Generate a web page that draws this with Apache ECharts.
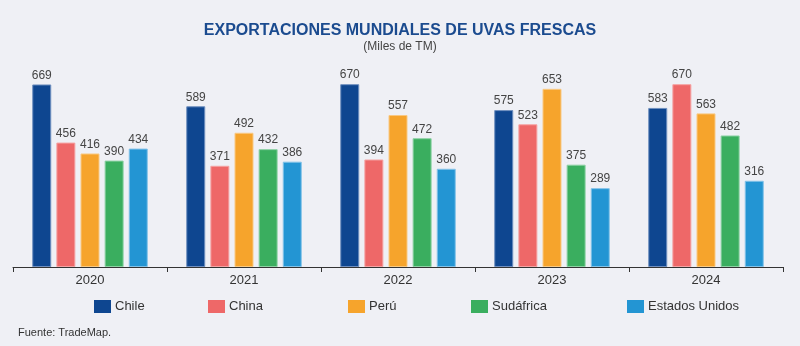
<!DOCTYPE html>
<html>
<head>
<meta charset="utf-8">
<script src="https://cdn.jsdelivr.net/npm/echarts@6/dist/echarts.min.js"></script>
<style>
  html, body { margin: 0; padding: 0; background: #eff0f5; }
  #chart { width: 800px; height: 346px; }
</style>
</head>
<body>
<div id="chart"></div>
<script>
// Exportaciones mundiales de uvas frescas (miles de TM)
const years = ['2020', '2021', '2022', '2023', '2024'];
const chile = [669, 589, 670, 575, 583];
const china = [456, 371, 394, 523, 670];
const peru = [416, 492, 557, 653, 563];
const sudafrica = [390, 432, 472, 375, 482];
const estadosUnidos = [434, 386, 360, 289, 316];

const seriesNames = ['Chile', 'China', 'Perú', 'Sudáfrica', 'Estados Unidos'];
const seriesData = [chile, china, peru, sudafrica, estadosUnidos];
const colors = ['#0e4690', '#ee6868', '#f6a42c', '#3aae5f', '#2395d3'];
const edgeColors = ['#6f8fbf', '#f5a3a3', '#f9c983', '#8dd1a4', '#82c2e8'];
const legendLeft = [89, 203, 343, 466, 622];

const font = '"Liberation Sans", Arial, sans-serif';

const chart = echarts.init(document.getElementById('chart'), null, { renderer: 'canvas' });

chart.setOption({
  backgroundColor: '#eff0f5',
  animation: false,
  title: [
    {
      text: 'EXPORTACIONES MUNDIALES DE UVAS FRESCAS',
      left: 'center',
      top: 18,
      textStyle: { fontFamily: font, fontSize: 16, fontWeight: 'bold', color: '#1b4b8f' }
    },
    {
      text: '(Miles de TM)',
      left: 'center',
      top: 36,
      textStyle: { fontFamily: font, fontSize: 12, fontWeight: 'normal', color: '#444' }
    },
    {
      text: 'Fuente: TradeMap.',
      left: 13,
      top: 322,
      textStyle: { fontFamily: font, fontSize: 11, fontWeight: 'normal', color: '#333' }
    }
  ],
  legend: seriesNames.map((name, i) => ({
    data: [name],
    left: legendLeft[i],
    top: 295,
    itemWidth: 17,
    itemHeight: 13,
    itemGap: 4,
    icon: 'rect',
    itemStyle: { borderWidth: 0 },
    textStyle: { fontFamily: font, fontSize: 13, color: '#333', padding: [0, 0, 0, -1] }
  })),
  grid: { left: 13, right: 17, top: 76, bottom: 79 },
  xAxis: {
    type: 'category',
    data: years,
    axisLine: { lineStyle: { color: '#333', width: 1 } },
    axisTick: { show: true, length: 5, lineStyle: { color: '#333' } },
    axisLabel: { fontFamily: font, fontSize: 13, color: '#333', margin: 7 }
  },
  yAxis: {
    type: 'value',
    min: 0,
    max: 700,
    show: false,
    splitLine: { show: false }
  },
  series: seriesNames.map((name, i) => ({
    name: name,
    type: 'bar',
    data: seriesData[i],
    barWidth: 19,
    barGap: '27%',
    itemStyle: { color: colors[i], borderColor: edgeColors[i], borderWidth: 1 },
    label: {
      show: true,
      position: 'top',
      distance: 3,
      fontFamily: font,
      fontSize: 12,
      color: '#444'
    }
  }))
});
</script>
</body>
</html>
